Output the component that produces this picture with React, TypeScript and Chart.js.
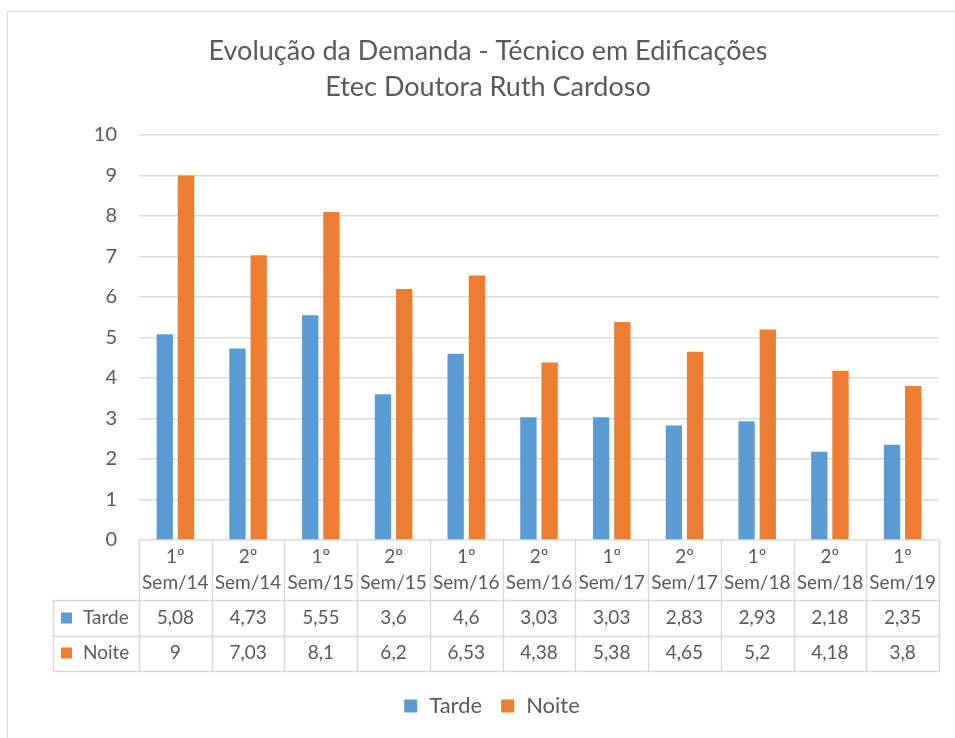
import { useEffect, useRef } from "react";
import { Chart, registerables } from "chart.js";

Chart.register(...registerables);

const titleLines = ["Evolução da Demanda - Técnico em Edificações", "Etec Doutora Ruth Cardoso"];
const categoryTop = ["1º", "2º", "1º", "2º", "1º", "2º", "1º", "2º", "1º", "2º", "1º"];
const categoryBottom = ["Sem/14", "Sem/14", "Sem/15", "Sem/15", "Sem/16", "Sem/16", "Sem/17", "Sem/17", "Sem/18", "Sem/18", "Sem/19"];
const seriesNames = ["Tarde", "Noite"];
const tarde = [5.08, 4.73, 5.55, 3.6, 4.6, 3.03, 3.03, 2.83, 2.93, 2.18, 2.35];
const noite = [9, 7.03, 8.1, 6.2, 6.53, 4.38, 5.38, 4.65, 5.2, 4.18, 3.8];
const yMin = 0;
const yMax = 10;
const yStep = 1;

const FONT = "Lato, 'Open Sans', sans-serif";
const TEXT = "#595959";
const GRID = "#d9d9d9";
const COLORS = ["#5b9bd5", "#ed7d31"];

const fmt = (v: number) => String(v).replace(".", ",");

export default function App() {
  const ref = useRef<HTMLCanvasElement>(null);

  useEffect(() => {
    document.body.style.margin = "0";
    document.body.style.overflow = "hidden";
    const canvas = ref.current!;
    const series = [tarde, noite];

    const deco = {
      id: "deco",
      beforeDraw(chart: any) {
        const ctx = chart.ctx;
        ctx.save();
        ctx.fillStyle = "#ffffff";
        ctx.fillRect(0, 0, chart.width, chart.height);
        ctx.strokeStyle = GRID;
        ctx.lineWidth = 1;
        ctx.strokeRect(7.5, 11.5, 2000, 2000);
        // title
        ctx.fillStyle = TEXT;
        ctx.font = `27px ${FONT}`;
        ctx.textAlign = "center";
        ctx.textBaseline = "middle";
        ctx.fillText(titleLines[0], 488, 51);
        ctx.fillText(titleLines[1], 488, 87);
        ctx.restore();
      },
      afterDraw(chart: any) {
        const ctx = chart.ctx;
        const xs = chart.scales.x;
        const ca = chart.chartArea;
        const n = categoryTop.length;
        const centers = categoryTop.map((_, i) => xs.getPixelForValue(i));
        const bounds = [ca.left];
        for (let i = 0; i < n - 1; i++) bounds.push((centers[i] + centers[i + 1]) / 2);
        bounds.push(ca.right);
        const top = ca.bottom;
        const rowY = [top + 60, top + 96, top + 131];
        const leftCol = 53;
        ctx.save();
        ctx.strokeStyle = GRID;
        ctx.lineWidth = 1.5;
        ctx.beginPath();
        for (const b of bounds) {
          const x = Math.round(b) + 0.5;
          ctx.moveTo(x, top);
          ctx.lineTo(x, rowY[2]);
        }
        ctx.moveTo(leftCol + 0.5, rowY[0]);
        ctx.lineTo(leftCol + 0.5, rowY[2]);
        for (const y of rowY) {
          ctx.moveTo(leftCol, y + 0.5);
          ctx.lineTo(Math.round(ca.right) + 1, y + 0.5);
        }
        ctx.stroke();

        ctx.fillStyle = TEXT;
        ctx.font = `19px ${FONT}`;
        ctx.textAlign = "center";
        ctx.textBaseline = "middle";
        for (let i = 0; i < n; i++) {
          const cx = (bounds[i] + bounds[i + 1]) / 2;
          ctx.fillText(categoryTop[i], cx, top + 17);
          ctx.fillText(categoryBottom[i], cx, top + 43);
          ctx.fillText(fmt(series[0][i]), cx, top + 78);
          ctx.fillText(fmt(series[1][i]), cx, top + 113);
        }
        // row headers
        ctx.textAlign = "left";
        for (let s = 0; s < 2; s++) {
          const cy = s === 0 ? top + 78 : top + 113;
          ctx.fillStyle = COLORS[s];
          ctx.fillRect(61, cy - 5.5, 11, 11);
          ctx.fillStyle = TEXT;
          ctx.fillText(seriesNames[s], 83, cy);
        }
        // bottom legend
        ctx.font = `22px ${FONT}`;
        const ly = 706;
        const sq = 13;
        const gapSq = 12;
        const gapItems = 19;
        const w0 = ctx.measureText(seriesNames[0]).width;
        const w1 = ctx.measureText(seriesNames[1]).width;
        const total = sq + gapSq + w0 + gapItems + sq + gapSq + w1;
        let x = 492 - total / 2;
        for (let s = 0; s < 2; s++) {
          ctx.fillStyle = COLORS[s];
          ctx.fillRect(x, ly - sq / 2, sq, sq);
          x += sq + gapSq;
          ctx.fillStyle = TEXT;
          ctx.fillText(seriesNames[s], x, ly);
          x += (s === 0 ? w0 : w1) + gapItems;
        }
        ctx.restore();
      },
    };

    const chart = new Chart(canvas, {
      type: "bar",
      data: {
        labels: categoryBottom.map((b, i) => `${categoryTop[i]} ${b}`),
        datasets: [
          { label: seriesNames[0], data: tarde, backgroundColor: COLORS[0], categoryPercentage: 0.583, barPercentage: 0.77 },
          { label: seriesNames[1], data: noite, backgroundColor: COLORS[1], categoryPercentage: 0.583, barPercentage: 0.77 },
        ],
      },
      options: {
        responsive: false,
        animation: false,
        layout: { padding: { top: 135, left: 59, right: 16, bottom: 198 } },
        plugins: {
          legend: { display: false },
          title: { display: false },
          tooltip: { enabled: false },
        },
        scales: {
          x: { display: false, offset: true },
          y: {
            min: yMin,
            max: yMax,
            ticks: { stepSize: yStep, padding: 22, color: TEXT, font: { family: FONT, size: 20 } },
            grid: { color: GRID, drawTicks: false, lineWidth: 1.5 },
            border: { display: false },
            afterFit: (s: any) => {
              s.width = 80;
            },
          },
        },
      },
      plugins: [deco],
    });
    return () => chart.destroy();
  }, []);

  return <canvas ref={ref} width={955} height={738} style={{ display: "block" }} />;
}
